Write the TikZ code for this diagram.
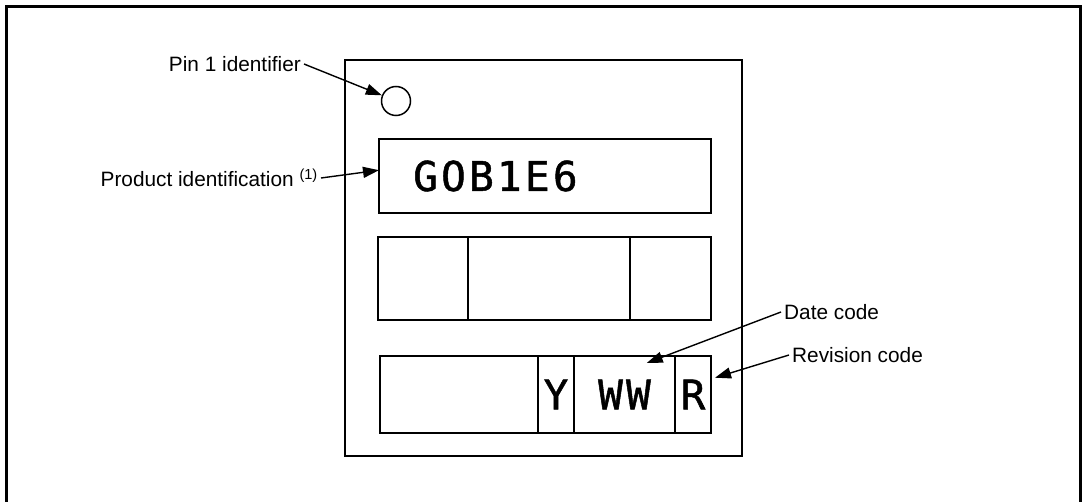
\documentclass[tikz,border=0pt]{standalone}
\usepackage{fontspec}
\setmainfont{Liberation Sans}
\newfontfamily\segfont[LetterSpace=8,FakeBold=1.2]{DejaVu Sans Mono}
\usetikzlibrary{arrows.meta,positioning}

\begin{document}
\begin{tikzpicture}[x=1pt,y=-1pt,>={Triangle[length=16pt,width=11pt]},
    every node/.style={font=\fontsize{20.8}{25}\selectfont},
    cell/.style={draw,line width=1.5pt,inner sep=0pt,outer sep=0pt},
    seg/.style={font=\fontsize{41}{41}\selectfont\segfont,inner sep=0pt},
    lbl/.style={inner sep=3pt},
    pointer/.style={->,line width=1.4pt}]
    \useasboundingbox (0,0) rectangle (1083,502);
    % outer frame, open at the bottom edge
    \draw[line width=3pt] (6,502) -- (6,7) -- (1080,7) -- (1080,502);
    % package body
    \node[cell,minimum width=397,minimum height=396,anchor=north west] (chip) at (345,60) {};
    \node[draw,circle,line width=1.5pt,minimum size=29pt,inner sep=0pt] (pin) at (396,101) {};
    % product identification line
    \node[cell,minimum width=332,minimum height=74,anchor=north west] (prod) at (379,139) {};
    \node[seg,anchor=west] (prodtxt) at ([xshift=34pt]prod.west) {GOB1E6};
    % middle row
    \node[cell,minimum width=90,minimum height=83,anchor=north west] (m1) at (378,237) {};
    \node[cell,minimum width=162,minimum height=83,right=0pt of m1] (m2) {};
    \node[cell,minimum width=81,minimum height=83,right=0pt of m2] (m3) {};
    % bottom row: year, week, revision
    \node[cell,minimum width=158,minimum height=77,anchor=north west] (b1) at (380,356) {};
    \node[cell,seg,minimum width=36,minimum height=77,right=0pt of b1] (yy) {Y};
    \node[cell,seg,minimum width=101,minimum height=77,right=0pt of yy] (ww) {WW};
    \node[cell,seg,minimum width=36,minimum height=77,right=0pt of ww] (rev) {R};
    % callouts
    \node[lbl,anchor=east] (pinlbl) at (304,64) {Pin 1 identifier};
    \node[lbl,anchor=east] (prodlbl) at (321,178) {Product identification \textsuperscript{(1)}};
    \node[lbl,anchor=west] (datelbl) at (781,312) {Date code};
    \node[lbl,anchor=west] (revlbl) at (789,355) {Revision code};
    \draw[pointer] (pinlbl.east) -- (pin);
    \draw[pointer] (prodlbl.east) -- (prod.178);
    \draw[pointer] (datelbl.west) -- ([yshift=-7pt]ww.60);
    \draw[pointer] (revlbl.west) -- ([xshift=4pt]rev.43);
\end{tikzpicture}
\end{document}
